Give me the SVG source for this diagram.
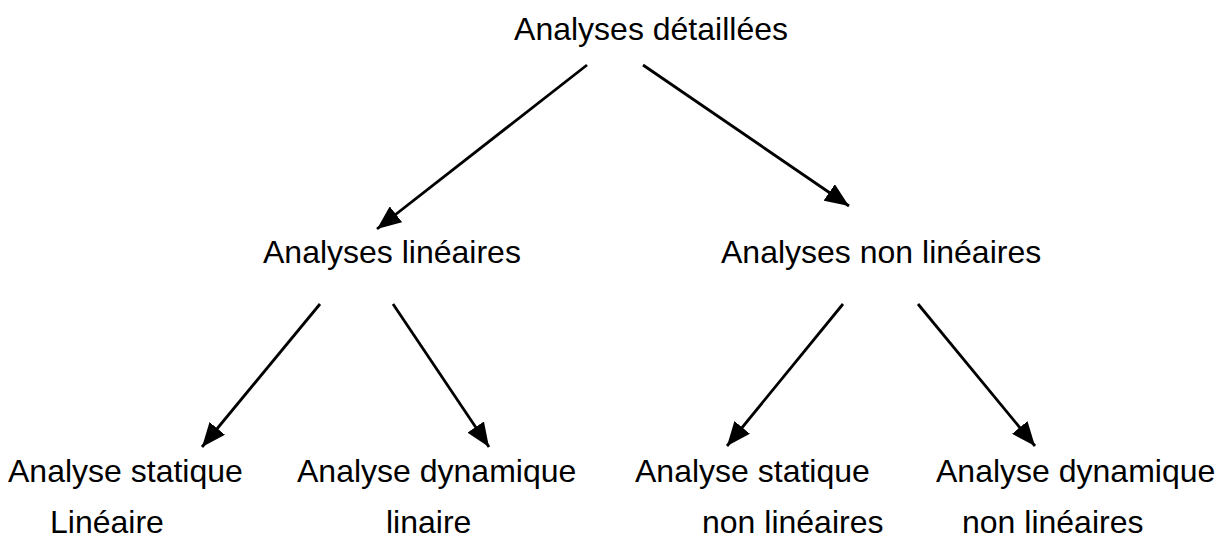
<svg xmlns="http://www.w3.org/2000/svg" width="1230" height="542" viewBox="0 0 1230 542">
  <style>
    text { font-family: "Liberation Sans", Arial, sans-serif; font-size: 32px; fill: #000; }
    .link { stroke: #000; stroke-width: 2.8; fill: none; marker-end: url(#arrow); }
  </style>
  <defs>
    <marker id="arrow" viewBox="0 0 24 20" refX="24" refY="10" markerWidth="24" markerHeight="20" markerUnits="userSpaceOnUse" orient="auto">
      <path d="M0,0 L24,10 L0,20 z" fill="#000"/>
    </marker>
  </defs>
  <rect width="1230" height="542" fill="#fff"/>

  <!-- connectors -->
  <g id="connectors">
    <line class="link" x1="587" y1="65" x2="377" y2="229"/>
    <line class="link" x1="643" y1="65" x2="849" y2="206"/>
    <line class="link" x1="320" y1="304" x2="202" y2="447"/>
    <line class="link" x1="393" y1="304" x2="489" y2="447"/>
    <line class="link" x1="843" y1="304" x2="727" y2="446"/>
    <line class="link" x1="918" y1="304" x2="1035" y2="446"/>
  </g>

  <!-- nodes -->
  <g id="root">
    <text x="651" y="40" text-anchor="middle">Analyses détaillées</text>
  </g>
  <g id="lineaires">
    <text x="263" y="263">Analyses linéaires</text>
  </g>
  <g id="non-lineaires">
    <text x="721" y="263">Analyses non linéaires</text>
  </g>
  <g id="statique-lineaire">
    <text x="8" y="482">Analyse statique</text>
    <text x="50" y="533">Linéaire</text>
  </g>
  <g id="dynamique-lineaire">
    <text x="297" y="482">Analyse dynamique</text>
    <text x="386" y="533">linaire</text>
  </g>
  <g id="statique-non-lineaire">
    <text x="635" y="482">Analyse statique</text>
    <text x="702" y="533">non linéaires</text>
  </g>
  <g id="dynamique-non-lineaire">
    <text x="936" y="482">Analyse dynamique</text>
    <text x="962" y="533">non linéaires</text>
  </g>
</svg>
